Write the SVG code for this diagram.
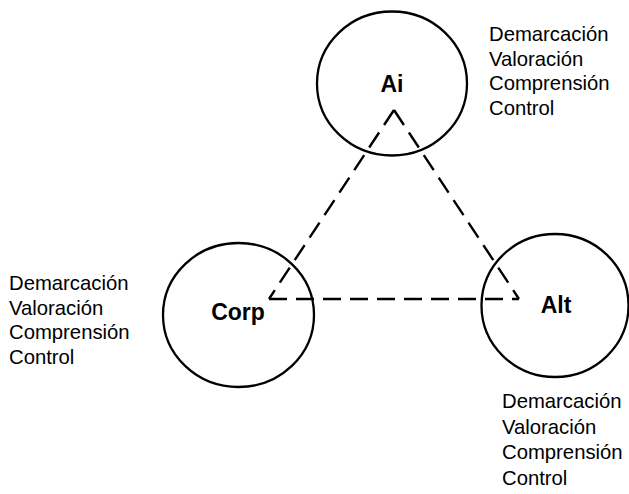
<svg xmlns="http://www.w3.org/2000/svg" width="629" height="494" viewBox="0 0 629 494">
<style>
.node{fill:none;stroke:#000;stroke-width:2.3}
.lbl{font-family:"Liberation Sans",Arial,sans-serif;font-weight:bold;font-size:23px;text-anchor:middle;fill:#000}
.note{font-family:"Liberation Sans",Arial,sans-serif;font-size:20.3px;fill:#000}
.dash{stroke:#000;stroke-width:2.4;stroke-dasharray:18 9;fill:none}
</style>
<rect width="629" height="494" fill="#fff"/>
<g id="connectors">
<line class="dash" x1="394" y1="110" x2="269" y2="299"/>
<line class="dash" x1="394" y1="110" x2="519" y2="299"/>
<line class="dash" x1="269" y1="299" x2="519" y2="299"/>
</g>
<g id="node-ai">
<ellipse class="node" cx="392" cy="83.5" rx="75" ry="72"/>
<text class="lbl" x="392" y="92">Ai</text>
<text class="note" x="489" y="41">Demarcación</text>
<text class="note" x="489" y="65.5">Valoración</text>
<text class="note" x="489" y="90">Comprensión</text>
<text class="note" x="489" y="114.5">Control</text>
</g>
<g id="node-corp">
<ellipse class="node" cx="238.5" cy="315" rx="75.5" ry="72"/>
<text class="lbl" x="238" y="320">Corp</text>
<text class="note" x="9" y="290">Demarcación</text>
<text class="note" x="9" y="314.5">Valoración</text>
<text class="note" x="9" y="339">Comprensión</text>
<text class="note" x="9" y="363.5">Control</text>
</g>
<g id="node-alt">
<ellipse class="node" cx="555" cy="305.5" rx="73.5" ry="71.5"/>
<text class="lbl" x="556" y="313">Alt</text>
<text class="note" x="502" y="408">Demarcación</text>
<text class="note" x="502" y="433.5">Valoración</text>
<text class="note" x="502" y="459">Comprensión</text>
<text class="note" x="502" y="484.5">Control</text>
</g>
</svg>
